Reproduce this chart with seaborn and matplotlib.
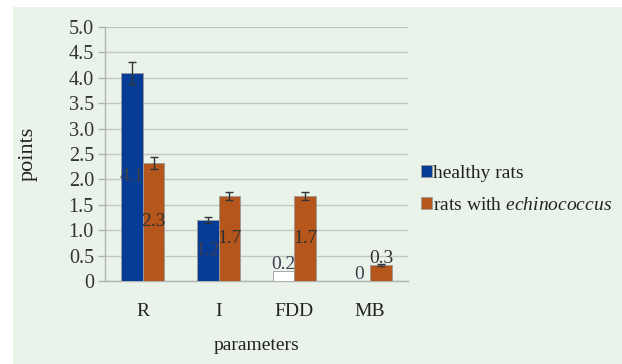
import numpy as np
import pandas as pd
import seaborn as sns
import matplotlib.pyplot as plt
from matplotlib.patches import Rectangle
from matplotlib.ticker import FuncFormatter

# data
categories = ["R", "I", "FDD", "MB"]
healthy = [4.1, 1.2, 0.2, 0.0]
healthy_err = [0.22, 0.06, 0.0, 0.0]
echino = [2.33, 1.67, 1.67, 0.32]
echino_err = [0.12, 0.08, 0.08, 0.02]
healthy_labels = ["4.1", "1.2", "0.2", "0"]
echino_labels = ["2.3", "1.7", "1.7", "0.3"]

series = ["healthy rats", "rats with $\\mathit{echinococcus}$"]

df = pd.DataFrame({
    "parameters": categories * 2,
    "points": healthy + echino,
    "group": [series[0]] * 4 + [series[1]] * 4,
})

sns.set_style("white")
plt.rcParams['font.family'] = ['Liberation Serif', 'DejaVu Serif']
plt.rcParams['mathtext.fontset'] = 'custom'
plt.rcParams['mathtext.rm'] = 'Liberation Serif'
plt.rcParams['mathtext.it'] = 'Liberation Serif:italic'

bg = "#eaf3ea"
blue = "#063c96"
orange = "#b5561c"
grid = "#c4c8c4"

fig = plt.figure(figsize=(6.22, 3.64), dpi=100, facecolor="white")
fig.add_artist(Rectangle((13 / 622, 0), 1, 1 - 7 / 364, transform=fig.transFigure,
                         facecolor=bg, edgecolor="none", zorder=-10))
ax = fig.add_axes([105 / 622, 1 - 281 / 364, 303 / 622, 254 / 364])
ax.set_facecolor(bg)

sns.barplot(data=df, x="parameters", y="points", hue="group",
            palette=[blue, orange], saturation=1, width=0.57, errorbar=None,
            edgecolor="#9a9a9a", linewidth=0.6, ax=ax, zorder=3)

# white FDD healthy bar
bars_h = ax.containers[0]
bars_e = ax.containers[1]
bars_h[2].set_facecolor("white")

def xs(bars):
    return [b.get_x() + b.get_width() / 2 for b in bars]

ax.errorbar(xs(bars_h)[:2], healthy[:2], yerr=healthy_err[:2], fmt="none",
            ecolor="#333333", elinewidth=1, capsize=3, capthick=1, zorder=4)
ax.errorbar(xs(bars_e), echino, yerr=echino_err, fmt="none",
            ecolor="#333333", elinewidth=1, capsize=3, capthick=1, zorder=4)

def label_y(v):
    return v / 2 if v > 0.5 else v + 0.12

for x, v, t in zip(xs(bars_h), healthy, healthy_labels):
    ax.text(x, label_y(v), t, ha="center", va="center", fontsize=14,
            color="#3c3f50", zorder=5)
for x, v, t in zip(xs(bars_e), echino, echino_labels):
    ax.text(x, label_y(v), t, ha="center", va="center", fontsize=14,
            color="#303030", zorder=5)

ax.set_ylim(0, 5)
ax.set_xlim(-0.5, 3.5)
ax.set_yticks(np.arange(0, 5.01, 0.5))
ax.yaxis.set_major_formatter(FuncFormatter(lambda v, p: "0" if v == 0 else f"{v:.1f}"))
ax.yaxis.grid(True, color=grid, linewidth=1)
ax.set_axisbelow(True)
for s in ["top", "right"]:
    ax.spines[s].set_visible(False)
for s in ["left", "bottom"]:
    ax.spines[s].set_color("#b0b4b0")
    ax.spines[s].set_linewidth(1)

ax.set_xticks(range(4))
ax.set_xticklabels(categories)
ax.set_xticks(np.arange(-0.5, 3.6, 1), minor=True)
ax.tick_params(axis="x", which="major", length=0, pad=16, labelsize=14, colors="#222222")
ax.tick_params(axis="x", which="minor", length=5, color="#b0b4b0", width=1)
ax.tick_params(axis="y", length=5, color="#b0b4b0", width=1, pad=3, labelsize=14.5,
               colors="#333333", direction="out")
ax.tick_params(axis="y", left=True)

ax.set_xlabel("parameters", fontsize=14, color="#222222", labelpad=12)
ax.set_ylabel("points", fontsize=16, color="#222222", labelpad=22)

leg = ax.legend(loc="center left", bbox_to_anchor=(1.043, 0.36), frameon=False,
                fontsize=14, handlelength=0.57, handleheight=0.57, handletextpad=0.05,
                labelspacing=0.75, borderpad=0, borderaxespad=0)
for t in leg.get_texts():
    t.set_color("#222222")

fig.savefig("out.png", dpi=100, facecolor=fig.get_facecolor())
